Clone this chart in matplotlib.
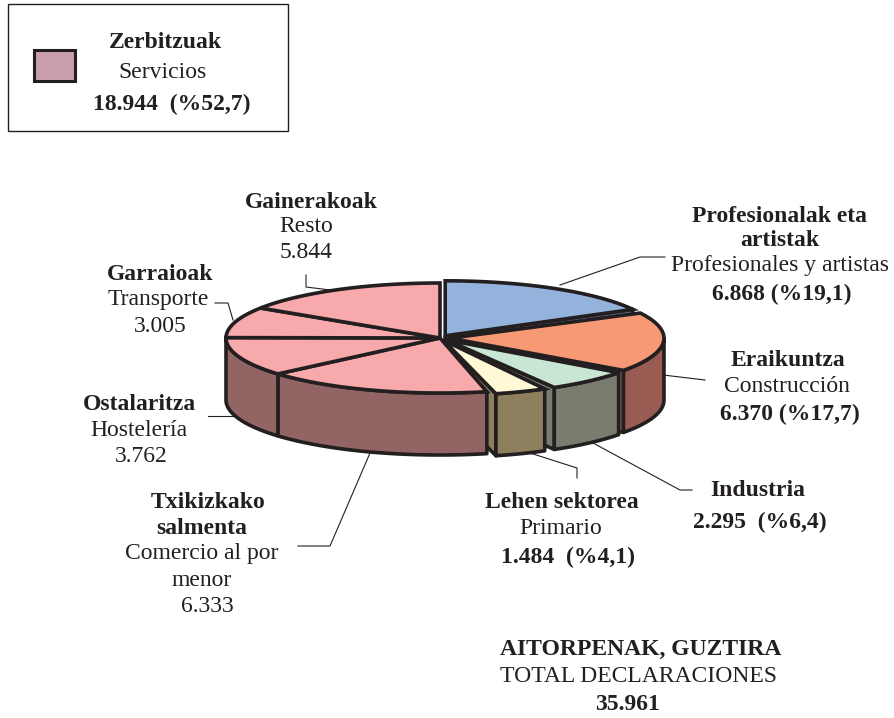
import numpy as np
import matplotlib
matplotlib.use("Agg")
import matplotlib.pyplot as plt
from matplotlib.patches import Polygon, Rectangle

plt.rcParams['font.family'] = ['Liberation Serif', 'DejaVu Serif']

# ---- data ----
sector_names = ["Profesionales y artistas", "Construcción", "Industria", "Primario",
                "Comercio al por menor", "Hostelería", "Transporte", "Resto"]
sector_values = [6868, 6370, 2295, 1484, 6333, 3762, 3005, 5844]
top_colors = ["#93b3dc", "#f79975", "#c9e6d4", "#fff9d6", "#f7a9ab", "#f7a9ab", "#f7a9ab", "#f7a9ab"]
side_colors = ["#5f7390", "#985c52", "#7a7c70", "#8e7f5f", "#926464", "#926464", "#926464", "#926464"]
explode = [10, 10, 10, 10, 0, 0, 0, 0]
view_skew = [0, -6, -6, -5.2, -3, -4.5, -1, 1.5, 0]   # perspective distortion of each slice boundary
trim_start = [0, 0, 0, 1.5, 0, 0, 0, 0]               # visual gap at each slice's start, degrees
trim_end = [1.5, 0.7, 0.5, 1.5, 0, 0, 0, 0]           # visual gap at each slice's end, degrees
draw_order = [0, 1, 2, 3, 4, 5, 6, 7]

labels = [
    ("Zerbitzuak", 165, 43, True), ("Servicios", 162, 73, False), ("18.944  (%52,7)", 172, 104, True),
    ("Gainerakoak", 311, 202, True), ("Resto", 306, 227, False), ("5.844", 306, 253, False),
    ("Profesionalak eta", 780, 217, True), ("artistak", 780, 241, True),
    ("Profesionales y artistas", 780, 265, False), ("6.868 (%19,1)", 782, 294, True),
    ("Eraikuntza", 788, 360, True), ("Construcción", 787, 386, False), ("6.370 (%17,7)", 790, 414, True),
    ("Industria", 758, 490, True), ("2.295  (%6,4)", 760, 522, True),
    ("Lehen sektorea", 562, 503, True), ("Primario", 561, 529, False), ("1.484  (%4,1)", 568, 557, True),
    ("Txikizkako", 208, 502, True), ("salmenta", 202, 529, True), ("Comercio al por", 202, 554, False),
    ("menor", 202, 581, False), ("6.333", 207, 607, False),
    ("Ostalaritza", 139, 405, True), ("Hostelería", 139, 430, False), ("3.762", 141, 457, False),
    ("Garraioak", 160, 274, True), ("Transporte", 158, 299, False), ("3.005", 160, 326, False),
    ("AITORPENAK, GUZTIRA", 641, 649, True), ("TOTAL DECLARACIONES", 638, 676, False), ("35.961", 627, 705, True),
]
leaders = [
    [(560, 285), (640, 257), (665, 257)],
    [(663, 375), (705, 380)],
    [(593, 443), (680, 490), (692, 490)],
    [(530, 453), (577, 468), (577, 478)],
    [(370, 453), (330, 546), (298, 546)],
    [(237, 416), (208, 416)],
    [(233, 320), (228, 303), (215, 303)],
    [(330, 290), (306, 287), (306, 275)],
]

# ---- geometry ----
CX, CY, A, B, DEPTH = 440, 338, 214, 55, 62
LINE = "#231f20"
LW = 2.6

fig = plt.figure(figsize=(8.94, 7.18), dpi=100)
ax = fig.add_axes([0, 0, 1, 1])
ax.set_xlim(0, 894)
ax.set_ylim(718, 0)
ax.axis("off")

def rim(theta, ox, oy):
    t = np.radians(theta)
    return np.column_stack([CX + ox + A * np.sin(t), CY + oy - B * np.cos(t)])

angles = 360 * np.concatenate([[0], np.cumsum(sector_values)]) / sum(sector_values) + np.array(view_skew)

for leader in leaders:
    xs, ys = zip(*leader)
    ax.plot(xs, ys, color=LINE, lw=0.8, zorder=1)

z = 2
for i in draw_order:
    a0, a1 = angles[i] + trim_start[i], angles[i + 1] - trim_end[i]
    mid = np.radians((angles[i] + angles[i + 1]) / 2)
    ox = explode[i] * np.sin(mid)
    oy = -explode[i] * np.cos(mid) * B / A
    apex = np.array([[CX + ox, CY + oy]])
    down = np.array([0, DEPTH])
    # end cut face (faces the viewer when the slice ends on the near side)
    if 30 < a1 < 180:
        e = rim(np.array([a1]), ox, oy)
        face = np.vstack([apex, e, e + down, apex + down])
        ax.add_patch(Polygon(face, closed=True, fc=side_colors[i], ec=LINE, lw=LW, joinstyle="round", zorder=z))
        z += 1
    # outer wall, visible half only
    w0, w1 = max(a0, 90), min(a1, 270)
    if w1 > w0:
        arc = rim(np.linspace(w0, w1, 60), ox, oy)
        wall = np.vstack([arc, (arc + down)[::-1]])
        ax.add_patch(Polygon(wall, closed=True, fc=side_colors[i], ec=LINE, lw=LW, joinstyle="round", zorder=z))
        z += 1
    # top
    arc = rim(np.linspace(a0, a1, 80), ox, oy)
    top = np.vstack([apex, arc])
    ax.add_patch(Polygon(top, closed=True, fc=top_colors[i], ec=LINE, lw=LW, joinstyle="miter", zorder=z))
    z += 1

# ---- legend box ----
ax.add_patch(Rectangle((8, 4), 280, 127, fc="white", ec=LINE, lw=1.0, zorder=1))
ax.add_patch(Rectangle((34, 50), 41, 31, fc="#c99fad", ec=LINE, lw=2.2, zorder=2))

for text, x, y, bold in labels:
    ax.text(x, y, text, ha="center", va="center", fontsize=17, color=LINE,
            fontweight="bold" if bold else "normal", zorder=50)

fig.savefig("out.png", dpi=100, facecolor="white")
